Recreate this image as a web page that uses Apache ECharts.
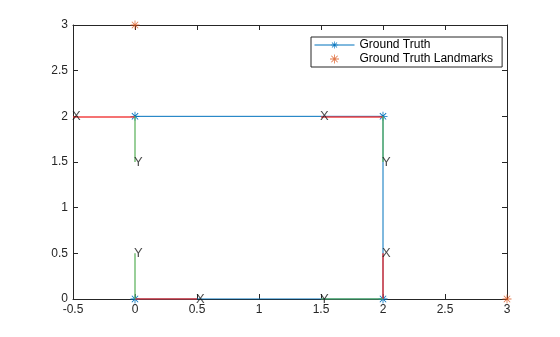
<!DOCTYPE html>
<html>
<head>
<meta charset="utf-8">
<script src="https://cdn.jsdelivr.net/npm/echarts@6/dist/echarts.min.js"></script>
<style>
  html, body { margin: 0; padding: 0; background: #fff; }
  #chart { width: 560px; height: 337px; }
</style>
</head>
<body>
<div id="chart"></div>
<script>
// ground truth path and landmarks
const truthX = [0, 2, 2, 0]
const truthY = [0, 0, 2, 2]
const landmarkX = [0, 3]
const landmarkY = [3, 0]

// pose frames: origin, tip of X axis, tip of Y axis
const frameOriginX = [0, 2, 2, 0]
const frameOriginY = [0, 0, 2, 2]
const frameXTipX = [0.5, 2, 1.5, -0.5]
const frameXTipY = [0, 0.5, 2, 2]
const frameYTipX = [0, 1.5, 2, 0]
const frameYTipY = [0.5, 0, 1.5, 1.5]

const xTicks = [-0.5, 3, 0.5] // min, max, step
const yTicks = [0, 3, 0.5]

const textColor = '#262626'
const font = 'Liberation Sans, Arial, sans-serif'

// asterisk marker built from thin filled bars
const asterisk = 'path://M9.1 0h1.8v20h-1.8z M0 9.1h20v1.8h-20z ' +
  'M3.6 2.3L17.7 16.4L16.4 17.7L2.3 3.6z M16.4 2.3L17.7 3.6L3.6 17.7L2.3 16.4z'

const chart = echarts.init(document.getElementById('chart'))

const xSegs = frameOriginX.map((x, i) => ({ coords: [[x, frameOriginY[i]], [frameXTipX[i], frameXTipY[i]]] }))
const ySegs = frameOriginX.map((x, i) => ({ coords: [[x, frameOriginY[i]], [frameYTipX[i], frameYTipY[i]]] }))
const labelPts = []
frameXTipX.forEach((x, i) => labelPts.push({ value: [x, frameXTipY[i]], name: 'X' }))
frameYTipX.forEach((x, i) => labelPts.push({ value: [x, frameYTipY[i]], name: 'Y' }))

const axisCommon = {
  type: 'value',
  axisLine: { show: true, onZero: false, lineStyle: { color: textColor, width: 1 } },
  axisTick: { show: true, inside: true, length: 5, lineStyle: { color: textColor } },
  splitLine: { show: false },
  axisLabel: { color: textColor, fontSize: 12, fontFamily: font, margin: 5 }
}

chart.setOption({
  animation: false,
  grid: { left: 73, right: 53, top: 25, bottom: 38, containLabel: false },
  xAxis: [
    Object.assign({}, axisCommon, { min: xTicks[0], max: xTicks[1], interval: xTicks[2], position: 'bottom' }),
    Object.assign({}, axisCommon, { min: xTicks[0], max: xTicks[1], interval: xTicks[2], position: 'top',
      axisLabel: { show: false } })
  ],
  yAxis: [
    Object.assign({}, axisCommon, { min: yTicks[0], max: yTicks[1], interval: yTicks[2], position: 'left' }),
    Object.assign({}, axisCommon, { min: yTicks[0], max: yTicks[1], interval: yTicks[2], position: 'right',
      axisLabel: { show: false } })
  ],
  legend: {
    orient: 'vertical',
    left: 311,
    top: 37,
    padding: [2, 9, 2, 3],
    itemGap: 2,
    itemWidth: 40,
    itemHeight: 9,
    borderColor: textColor,
    borderWidth: 1,
    borderRadius: 0,
    backgroundColor: '#fff',
    lineStyle: { width: 1 },
    textStyle: { color: '#000', fontSize: 12, fontFamily: font },
    data: ['Ground Truth', 'Ground Truth Landmarks']
  },
  series: [
    {
      name: 'Ground Truth',
      type: 'line',
      data: truthX.map((x, i) => [x, truthY[i]]),
      symbol: asterisk,
      symbolSize: 9,
      showSymbol: true,
      itemStyle: { color: '#0072BD' },
      lineStyle: { color: '#0072BD', width: 1 },
      z: 2
    },
    {
      name: 'X frame',
      type: 'lines',
      coordinateSystem: 'cartesian2d',
      data: xSegs,
      lineStyle: { color: '#f03030', width: 1.5, opacity: 0.9 },
      z: 3
    },
    {
      name: 'Y frame',
      type: 'lines',
      coordinateSystem: 'cartesian2d',
      data: ySegs,
      lineStyle: { color: '#5fb35f', width: 1.5, opacity: 0.85 },
      z: 3
    },
    {
      name: 'frame labels',
      type: 'scatter',
      data: labelPts,
      symbolSize: 0,
      label: {
        show: true,
        position: 'right',
        distance: -1,
        formatter: p => p.name,
        color: '#1a1a1a',
        fontSize: 13,
        fontFamily: font
      },
      z: 4
    },
    {
      name: 'Ground Truth Landmarks',
      type: 'scatter',
      data: landmarkX.map((x, i) => [x, landmarkY[i]]),
      symbol: asterisk,
      symbolSize: 9,
      clip: false,
      itemStyle: { color: '#D95319' },
      z: 5
    }
  ]
})
</script>
</body>
</html>
